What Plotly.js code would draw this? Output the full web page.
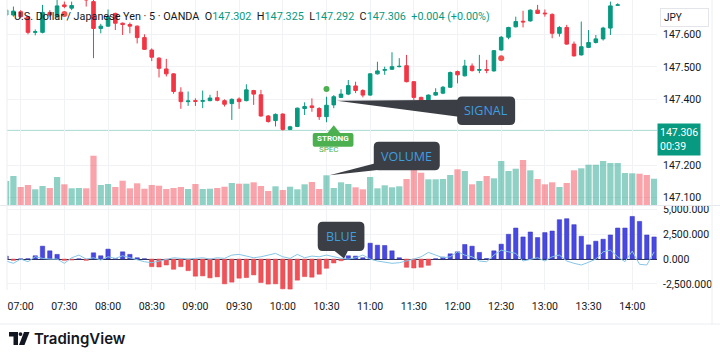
<!DOCTYPE html>
<html><head><meta charset="utf-8">
<script src="https://cdn.plot.ly/plotly-3.0.1.min.js"></script>
<style>html,body{margin:0;padding:0;background:#fff;}#chart{width:720px;height:359px;}</style>
</head><body><div id="chart"></div>
<script>
const day = '2023-09-01 ';
const times = ['06:50','06:55',
 '07:00','07:05','07:10','07:15','07:20','07:25','07:30','07:35','07:40','07:45','07:50','07:55',
 '08:00','08:05','08:10','08:15','08:20','08:25','08:30','08:35','08:40','08:45','08:50','08:55',
 '09:00','09:05','09:10','09:15','09:20','09:25','09:30','09:35','09:40','09:45','09:50','09:55',
 '10:00','10:05','10:10','10:15','10:20','10:25','10:30','10:35','10:40','10:45','10:50','10:55',
 '11:00','11:05','11:10','11:15','11:20','11:25','11:30','11:35','11:40','11:45','11:50','11:55',
 '12:00','12:05','12:10','12:15','12:20','12:25','12:30','12:35','12:40','12:45','12:50','12:55',
 '13:00','13:05','13:10','13:15','13:20','13:25','13:30','13:35','13:40','13:45','13:50','13:55',
 '14:00','14:05','14:10','14:15'];
const open = [147.659,147.659,147.669,147.654,147.606,147.606,147.667,147.654,147.690,147.680,
 147.720,147.725,147.700,147.618,147.625,147.664,147.634,147.630,147.625,147.590,
 147.552,147.527,147.494,147.479,147.423,147.394,147.397,147.395,147.397,147.406,
 147.397,147.388,147.402,147.397,147.428,147.415,147.350,147.336,147.356,147.309,
 147.318,147.373,147.381,147.373,147.348,147.384,147.407,147.417,147.442,147.428,
 147.414,147.479,147.490,147.493,147.501,147.504,147.455,147.407,147.387,147.414,
 147.420,147.438,147.486,147.473,147.503,147.490,147.492,147.488,147.552,147.591,
 147.623,147.640,147.641,147.674,147.665,147.661,147.603,147.621,147.570,147.537,
 147.560,147.575,147.586,147.619,147.689,147.715,147.741,147.761,147.746,147.730];
const high = [147.695,147.685,147.674,147.656,147.615,147.690,147.674,147.715,147.700,147.700,
 147.746,147.736,147.715,147.632,147.676,147.666,147.636,147.636,147.627,147.600,
 147.557,147.530,147.525,147.481,147.438,147.425,147.404,147.428,147.415,147.427,
 147.401,147.404,147.407,147.447,147.430,147.430,147.353,147.358,147.358,147.320,
 147.376,147.392,147.404,147.377,147.409,147.414,147.432,147.460,147.455,147.432,
 147.481,147.516,147.501,147.545,147.527,147.537,147.457,147.409,147.416,147.435,
 147.442,147.486,147.489,147.522,147.511,147.537,147.522,147.552,147.595,147.623,
 147.654,147.672,147.676,147.690,147.676,147.664,147.625,147.629,147.578,147.639,
 147.613,147.598,147.623,147.700,147.695,147.746,147.766,147.766,147.751,147.756];
const low = [147.649,147.654,147.649,147.600,147.597,147.603,147.654,147.649,147.680,147.674,
 147.710,147.685,147.527,147.603,147.623,147.613,147.598,147.603,147.572,147.552,
 147.518,147.468,147.471,147.418,147.372,147.381,147.381,147.374,147.395,147.395,
 147.379,147.338,147.372,147.395,147.384,147.348,147.330,147.318,147.305,147.307,
 147.316,147.353,147.363,147.338,147.331,147.374,147.406,147.414,147.420,147.407,
 147.412,147.477,147.476,147.491,147.499,147.453,147.399,147.369,147.384,147.412,
 147.417,147.436,147.450,147.471,147.486,147.481,147.481,147.486,147.550,147.585,
 147.621,147.621,147.639,147.662,147.654,147.588,147.593,147.568,147.532,147.535,
 147.558,147.572,147.581,147.598,147.687,147.710,147.730,147.736,147.725,147.720];
const close = [147.674,147.671,147.654,147.606,147.608,147.667,147.659,147.687,147.685,147.688,
 147.736,147.705,147.618,147.625,147.654,147.634,147.630,147.625,147.590,147.554,
 147.530,147.496,147.479,147.425,147.394,147.396,147.395,147.397,147.405,147.398,
 147.386,147.401,147.394,147.430,147.417,147.350,147.333,147.355,147.309,147.317,
 147.374,147.379,147.376,147.348,147.383,147.409,147.417,147.443,147.428,147.414,
 147.479,147.488,147.492,147.501,147.502,147.455,147.407,147.381,147.414,147.422,
 147.438,147.483,147.476,147.503,147.489,147.492,147.490,147.550,147.591,147.621,
 147.639,147.638,147.674,147.664,147.663,147.603,147.621,147.570,147.534,147.562,
 147.575,147.586,147.619,147.687,147.690,147.741,147.761,147.746,147.730,147.746];
const volume = [2400,2900,1800,2000,1570,1900,1700,2800,2070,1670,
 1700,1670,4930,2000,2100,1800,2430,1670,2170,1630,
 2000,1930,1600,1700,1800,1600,2100,1600,1630,1700,
 1830,2200,2130,2130,2270,1900,1400,1870,1500,1830,
 1570,2070,2300,1600,2970,1700,2270,2100,1770,1570,
 2800,1670,1970,1770,1870,2600,3500,3230,2570,2570,
 2600,3000,3570,3400,2070,2400,2900,2670,4400,3400,
 3630,4500,3470,2600,2070,2270,1800,2200,3470,3670,
 4030,4030,4400,4200,4200,3200,3170,3130,3000,2630];
const histogram = [300,-130,20,30,330,1300,830,470,-130,-100,
 20,-130,630,330,1000,30,730,470,130,30,
 -770,-800,-600,-1030,-770,-1170,-1730,-1700,-1900,-1800,
 -2500,-2330,-1930,-1870,-1600,-2370,-2530,-2500,-3000,-3030,
 -2130,-1770,-1830,-1530,-930,-400,-170,330,300,130,
 1600,1400,1370,830,130,-830,-900,-830,-630,30,
 200,530,730,1470,1300,670,50,830,1500,2500,
 3130,2230,2730,2170,2670,2830,3970,4070,3470,2300,
 1430,1800,2000,2430,3130,3130,4300,3800,2430,2230];
const signalLine = [-200,-430,0,-270,230,70,0,0,-430,130,
 400,0,130,-100,230,70,330,130,0,-270,
 -370,-200,0,130,70,0,70,130,0,130,
 70,400,470,330,130,230,400,570,230,70,
 470,130,300,230,400,230,70,0,130,400,
 0,-200,-330,-430,-370,-200,0,230,670,400,
 130,230,730,400,230,-200,-270,400,900,730,
 570,-200,0,130,-200,230,400,-200,-430,-600,
 -330,0,730,900,230,-270,800,-530,-600,730];
const buyTimes = ['10:30'];
const buyPrices = [147.433];
const sellTimes = ['07:30','12:30'];
const sellPrices = [147.662,147.527];
const timeTicks = ['07:00','07:30','08:00','08:30','09:00','09:30','10:00','10:30','11:00','11:30','12:00','12:30','13:00','13:30','14:00'];
const priceTicks = [147.1,147.2,147.4,147.5,147.6];
const oscTicks = [5000,2500,0,-2500];
const oscTickText = ['5,000.000','2,500.000','0.000','-2,500.000'];
const symbolName = 'U.S. Dollar / Japanese Yen · 5 · OANDA';
const legendKeys = ['O','H','L','C'];
const legendVals = ['147.302','147.325','147.292','147.306'];
const legendChange = '+0.004 (+0.00%)';
const lastPrice = 147.306;
const countdown = '00:39';
const currency = 'JPY';

const UP = '#089981', DN = '#f23645';
const X = times.map(t => day + t);
const isUp = close.map((c,i) => c >= open[i]);
const BAR = 300000;

const traces = [
 {type:'bar', x:X, y:volume, yaxis:'y2', width:X.map(()=>BAR*0.86),
  marker:{color:isUp.map(u => u ? 'rgba(8,153,129,0.45)' : 'rgba(242,54,69,0.45)'), line:{width:0}},
  hoverinfo:'skip'},
 {type:'candlestick', x:X, open:open, high:high, low:low, close:close, yaxis:'y',
  increasing:{line:{color:UP,width:1}, fillcolor:UP},
  decreasing:{line:{color:DN,width:1}, fillcolor:DN}, whiskerwidth:0, hoverinfo:'skip'},
 {type:'scatter', mode:'markers', x:buyTimes.map(t=>day+t), y:buyPrices, yaxis:'y',
  marker:{color:'#4caf50', size:6}, hoverinfo:'skip'},
 {type:'scatter', mode:'markers', x:sellTimes.map(t=>day+t), y:sellPrices, yaxis:'y',
  marker:{color:'#f05350', size:6}, hoverinfo:'skip'},
 {type:'bar', x:X, y:histogram, yaxis:'y3', width:X.map(()=>BAR*0.6),
  marker:{color:histogram.map(v => v >= 0 ? '#4848e4' : '#f05258'),
          line:{color:histogram.map(v => v >= 0 ? '#3434b8' : '#e04048'), width:0.5}},
  hoverinfo:'skip'},
 {type:'scatter', mode:'lines', x:X, y:signalLine, yaxis:'y3',
  line:{color:'#86c5e6', width:1}, hoverinfo:'skip'}
];

// pixel helpers (plot area: x 7..657, y 0..290)
const P = px => (px - 7) / 650;
const Q = py => (290 - py) / 290;
function rr(x0,y0,x1,y1,r){
  return `M${x0+r},${y0} L${x1-r},${y0} Q${x1},${y0} ${x1},${y0+r} L${x1},${y1-r} Q${x1},${y1} ${x1-r},${y1} L${x0+r},${y1} Q${x0},${y1} ${x0},${y1-r} L${x0},${y0+r} Q${x0},${y0} ${x0+r},${y0} Z`;
}
const BOX = '#3b3e44', TXT = '#3d9fe0';
const iSig = times.indexOf('10:35'), iVol = times.indexOf('10:30'), iBlue = times.indexOf('10:40');
const sigY = (open[iSig] + close[iSig]) / 2;

function pshape(x, y, yref, path, fill){
  return {type:'path', xref:'x', yref:yref, xsizemode:'pixel', ysizemode:'pixel',
    xanchor:x, yanchor:y, path:path, fillcolor:fill, line:{width:0}, layer:'above'};
}
const shapes = [
 {type:'line', xref:'paper', x0:0, x1:1, yref:'y', y0:lastPrice, y1:lastPrice,
  line:{color:'rgba(8,153,129,0.35)', width:1}, layer:'below'},
 pshape(X[iSig], sigY, 'y', 'M3,0 L125,1 L125,-16 Z', BOX),
 pshape(X[iSig], sigY, 'y', rr(123.4,-24.1,181.4,4.2,5), BOX),
 pshape(X[iVol], volume[iVol], 'y2', 'M3,0 L49,12 L58,6 Z', BOX),
 pshape(X[iVol], volume[iVol], 'y2', rr(47.3,5,113.3,33.6,5), BOX),
 pshape(X[iBlue], 0, 'y3', 'M3,0.5 L-7,8.5 L7,8.5 Z', BOX),
 pshape(X[iBlue], 0, 'y3', rr(-23.3,8,23.4,37.3,5), BOX),
 pshape(X[iSig], low[iSig], 'y', 'M0,-17 L-6.5,-25.2 L6.5,-25.2 Z', '#4caf50'),
 pshape(X[iSig], low[iSig], 'y', rr(-21,-38.5,19.7,-24.8,2), '#4caf50'),
 {type:'line', xref:'paper', yref:'paper', x0:P(0), x1:P(720), y0:Q(205.5), y1:Q(205.5), line:{color:'#e6e8ee', width:1}},
 {type:'line', xref:'paper', yref:'paper', x0:P(0), x1:P(720), y0:Q(324), y1:Q(324), line:{color:'#eceef2', width:1}},
 {type:'line', xref:'paper', yref:'paper', x0:P(712), x1:P(712), y0:Q(0), y1:Q(324), line:{color:'#eceef2', width:1}},
 {type:'line', xref:'paper', yref:'paper', x0:P(7), x1:P(7), y0:Q(0), y1:Q(290), line:{color:'#eceef2', width:1}},
 {type:'path', xref:'paper', yref:'paper', path:`M${P(9)},${Q(332)} L${P(18)},${Q(332)} L${P(18)},${Q(345)} L${P(13.5)},${Q(345)} L${P(13.5)},${Q(336.5)} L${P(9)},${Q(336.5)} Z`, fillcolor:'#131722', line:{width:0}},
 {type:'circle', xref:'paper', yref:'paper', x0:P(18.6), x1:P(22.4), y0:Q(332.2), y1:Q(336), fillcolor:'#131722', line:{width:0}},
 {type:'path', xref:'paper', yref:'paper', path:`M${P(24)},${Q(332)} L${P(29.5)},${Q(332)} L${P(24.5)},${Q(345)} L${P(19)},${Q(345)} Z`, fillcolor:'#131722', line:{width:0}}
];

const legendHtml = `<span style="color:#131722">${symbolName}</span>  ` +
  legendKeys.map((k,i) => `<span style="color:#131722">${k}</span><span style="color:${UP}">${legendVals[i]}</span>`).join('  ') +
  `  <span style="color:${UP}">${legendChange}</span>`;

const annotations = [
 {xref:'paper', yref:'paper', x:P(12), y:Q(16.5), xanchor:'left', yanchor:'middle', showarrow:false,
  text:legendHtml, font:{size:10.8, color:'#131722'}},
 {xref:'x', yref:'y', x:X[iSig], y:sigY, xshift:152.4, yshift:-9.6, showarrow:false, text:'SIGNAL',
  font:{family:'Open Sans, sans-serif', size:12.5, color:TXT}},
 {xref:'x', yref:'y2', x:X[iVol], y:volume[iVol], xshift:80.3, yshift:19.3, showarrow:false, text:'VOLUME',
  font:{family:'Open Sans, sans-serif', size:12.5, color:TXT}},
 {xref:'x', yref:'y3', x:X[iBlue], y:0, xshift:0, yshift:22.6, showarrow:false, text:'BLUE',
  font:{family:'Open Sans, sans-serif', size:12.5, color:TXT}},
 {xref:'x', yref:'y', x:X[iSig], y:low[iSig], xshift:-0.5, yshift:-30.8, showarrow:false, text:'<b>STRONG</b>',
  font:{size:8, color:'#ffffff'}},
 {xref:'x', yref:'y', x:X[iSig], y:low[iSig], xshift:-16.6, yshift:-41.5, xanchor:'left', showarrow:false, text:'SPEC',
  font:{size:8, color:'#4caf50'}},
 {xref:'paper', yref:'y', x:1, y:lastPrice, xanchor:'left', yanchor:'top', yshift:7, showarrow:false,
  text:lastPrice.toFixed(3) + '<br>' + countdown, align:'left', bgcolor:UP, borderpad:2,
  font:{size:10.5, color:'#ffffff'}},
 {xref:'paper', yref:'paper', x:P(660), y:Q(17.7), xanchor:'left', yanchor:'middle', showarrow:false,
  text:currency, width:41, align:'left', bgcolor:'#ffffff', bordercolor:'#e3e5ea', borderwidth:1, borderpad:3,
  font:{size:10, color:'#131722'}},
 {xref:'paper', yref:'paper', x:P(32), y:Q(338.5), xanchor:'left', yanchor:'middle', showarrow:false,
  text:'TradingView', font:{family:'Inter, Roboto, sans-serif', size:15, weight:600, color:'#131722'}}
];

const gridc = '#f0f2f5';
const layout = {
  width:720, height:359, margin:{l:7, r:63, t:0, b:69},
  paper_bgcolor:'#ffffff', plot_bgcolor:'#ffffff', showlegend:false, dragmode:false,
  font:{family:'Roboto, "Liberation Sans", Arial, sans-serif', color:'#131722', size:10},
  xaxis:{type:'date', anchor:'y3', range:[day+'06:50:36', day+'14:17:00'], rangeslider:{visible:false},
    tickmode:'array', tickvals:timeTicks.map(t=>day+t), ticktext:timeTicks,
    showgrid:true, gridcolor:gridc, zeroline:false, showline:false, ticks:'',
    tickfont:{size:10.5}, ticklabelstandoff:8},
  yaxis:{domain:[Q(205),1], range:[147.0777,147.705], side:'right', tickvals:priceTicks, tickformat:'.3f',
    showgrid:true, gridcolor:gridc, zeroline:false, showline:false, ticks:'', ticklabelstandoff:5,
    tickfont:{size:10.5}},
  yaxis2:{overlaying:'y', range:[0,20500], visible:false},
  yaxis3:{domain:[0,Q(206)], range:[-3123,5353], side:'right', tickmode:'array', tickvals:oscTicks, ticktext:oscTickText,
    showgrid:true, gridcolor:gridc, zeroline:true, zerolinecolor:'#2e3350', zerolinewidth:1, showline:false, ticks:'', ticklabelstandoff:5,
    tickfont:{size:10.5}},
  shapes:shapes, annotations:annotations
};
Plotly.newPlot('chart', traces, layout, {staticPlot:true, displayModeBar:false});
</script>
</body></html>
